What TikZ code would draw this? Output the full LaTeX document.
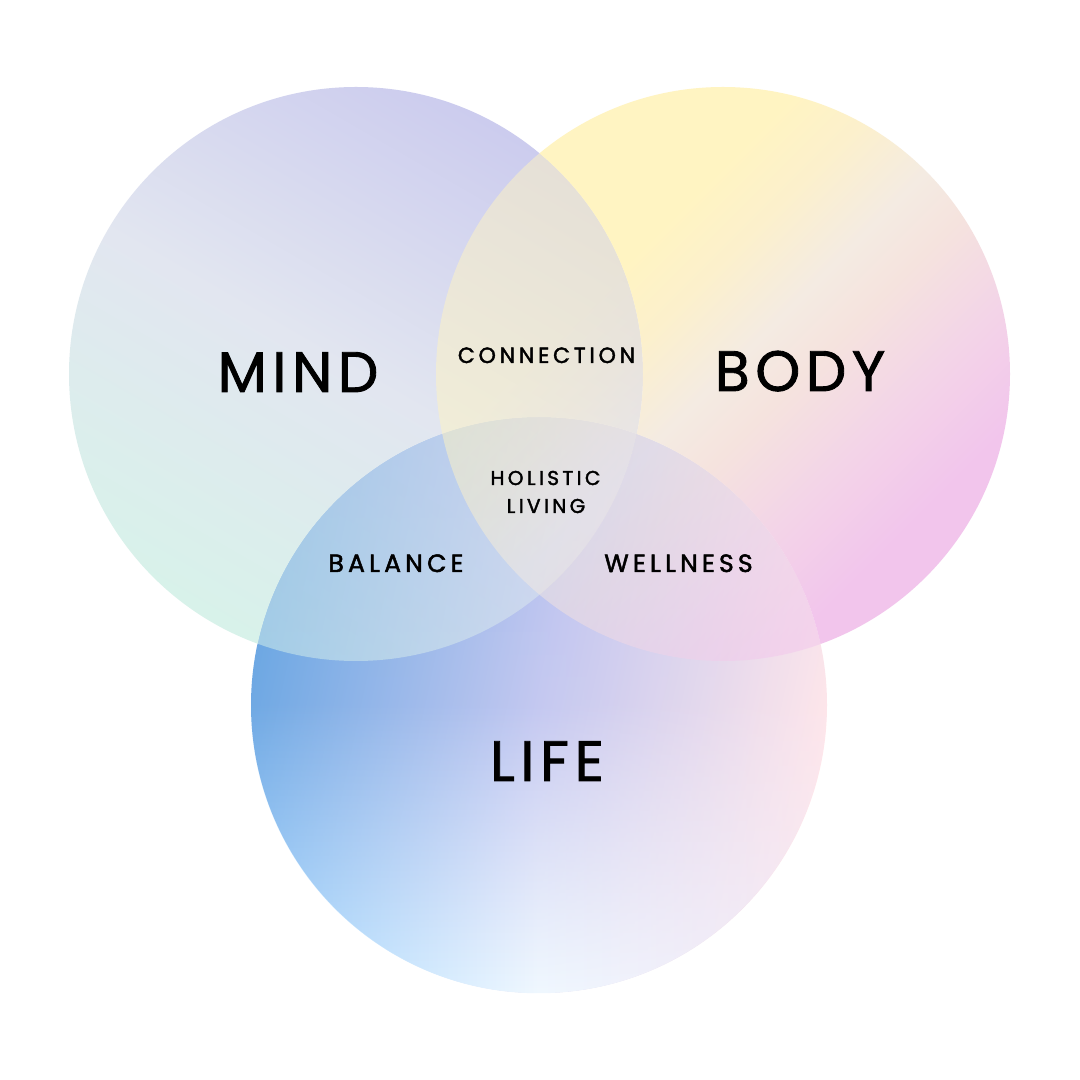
\documentclass[tikz,border=0pt]{standalone}
\usepackage{fontspec}
\setmainfont{Poppins}
\newfontfamily\bigfont[LetterSpace=10,FakeBold=1.5]{Poppins}
\newfontfamily\smallfont[LetterSpace=17,FakeBold=2]{Poppins}
\usetikzlibrary{fadings}
\definecolor{mindA}{HTML}{CCCCEE}
\definecolor{mindM}{HTML}{E2E6F0}
\definecolor{mindB}{HTML}{D8F2EA}
\definecolor{bodyY}{HTML}{FFF4C2}
\definecolor{bodyY2}{HTML}{FCF0CC}
\definecolor{bodyC}{HTML}{F4EBE2}
\definecolor{bodyP1}{HTML}{F5E3DE}
\definecolor{bodyP2}{HTML}{F3D4E8}
\definecolor{bodyP}{HTML}{F2C5EC}
\definecolor{lifeL}{HTML}{6CA6E2}
\definecolor{lifeM}{HTML}{C2C6F0}
\definecolor{lifeR}{HTML}{FFE6EA}
\definecolor{lifeSL}{HTML}{A8DAFF}
\definecolor{lifeSM}{HTML}{F0F8FF}
\definecolor{lifeSR}{HTML}{F2E8F6}
\pgfdeclareverticalshading{bodysh}{100bp}{color(0bp)=(bodyP); color(29bp)=(bodyP); color(37bp)=(bodyP2); color(45bp)=(bodyP1); color(50bp)=(bodyC); color(57bp)=(bodyY2); color(63bp)=(bodyY); color(100bp)=(bodyY)}
\tikzfading[name=lifefade, top color=transparent!100, bottom color=transparent!0, middle color=transparent!95]
\tikzset{
  mindshade/.style={top color=mindA, bottom color=mindB, middle color=mindM, shading angle=-30},
  bodyshade/.style={shade, shading=bodysh, shading angle=45},
  lifebase/.style={left color=lifeL, right color=lifeR, middle color=lifeM, shading angle=78},
  lifeglow/.style={left color=lifeSL, right color=lifeSR, middle color=lifeSM},
  bigtxt/.style={font=\bigfont\fontsize{57}{60}\selectfont, text=black, inner sep=0pt, anchor=base},
  smalltxt/.style={font=\smallfont\fontsize{22}{24}\selectfont, text=black, inner sep=0pt, anchor=base},
  midtxt/.style={font=\smallfont\fontsize{25}{27}\selectfont, text=black, inner sep=0pt, anchor=base},
  tinytxt/.style={font=\smallfont\fontsize{20}{22}\selectfont, text=black, inner sep=0pt, anchor=base},
}
\def\mindpath{(356,706) circle (287pt)}
\def\bodypath{(723,706) circle (287pt)}
\def\lifepath{(539,375) circle (288pt)}
\def\boxpath{(-10,-10) rectangle (1090,1090)}
\begin{document}
\begin{tikzpicture}[x=1pt,y=1pt]
\useasboundingbox (0,0) rectangle (1080,1080);
\fill[white] (0,0) rectangle (1080,1080);
% Life: base gradient and light glow towards the bottom
\shade[lifebase] \lifepath;
\shade[lifeglow, path fading=lifefade] \lifepath;
% Mind outside Life
\begin{scope}[even odd rule]
  \clip \boxpath \lifepath;
  \shade[mindshade] \mindpath;
\end{scope}
% Mind inside Life
\begin{scope}
  \clip \lifepath;
  \shade[mindshade, opacity=0.5] \mindpath;
\end{scope}
% Body outside Life and Mind
\begin{scope}[even odd rule]
  \clip \boxpath \lifepath;
  \clip \boxpath \mindpath;
  \shade[bodyshade] \bodypath;
\end{scope}
% Body inside Mind
\begin{scope}
  \clip \mindpath;
  \shade[bodyshade, opacity=0.5] \bodypath;
\end{scope}
% Body inside Life, outside Mind
\begin{scope}[even odd rule]
  \clip \lifepath;
  \clip \boxpath \mindpath;
  \shade[bodyshade, opacity=0.5] \bodypath;
\end{scope}
% Labels
\node[bigtxt] (mind) at (298,688) {MIND};
\node[bigtxt] (body) at (800,689) {BODY};
\node[bigtxt] (life) at (547,299) {LIFE};
\node[smalltxt] (conn) at (546.5,717) {CONNECTION};
\node[tinytxt] (hol) at (545.5,595) {HOLISTIC};
\node[tinytxt] (liv) at (546,567) {LIVING};
\node[midtxt] (bal) at (396,508) {BALANCE};
\node[midtxt] (well) at (678.5,508) {WELLNESS};
\end{tikzpicture}
\end{document}
